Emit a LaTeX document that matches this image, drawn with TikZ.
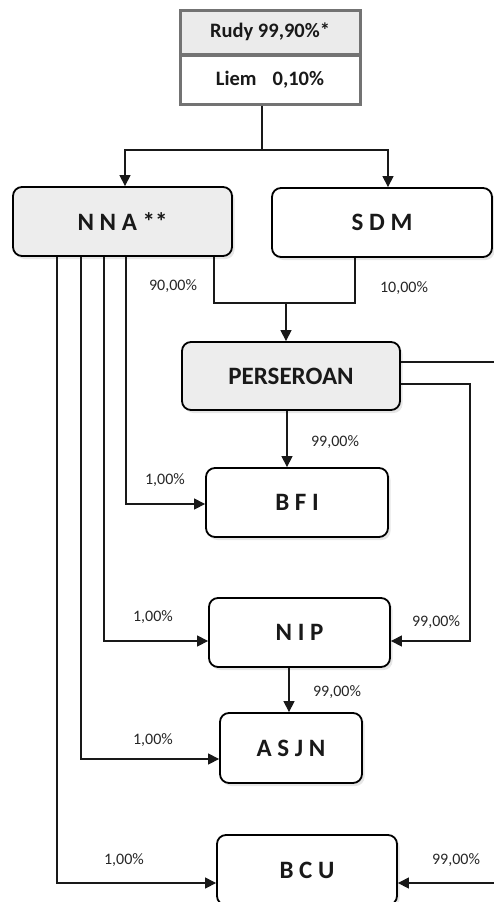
\documentclass[tikz,border=0pt]{standalone}
\usepackage{fontspec}
\setmainfont{Carlito}
\usetikzlibrary{arrows.meta}
\usetikzlibrary{shadows}

\tikzset{
  firm/.style={draw, rounded corners=9pt, line width=1.8pt, fill=white, inner sep=0pt,
    text=black!90, font=\fontsize{25}{29}\selectfont\bfseries,
    drop shadow={shadow xshift=2.5pt, shadow yshift=-3pt, opacity=0.2}},
  grayfirm/.style={firm, fill=black!7},
  owner/.style={draw=black!55, line width=3pt, minimum width=180pt, inner sep=0pt,
    text=black!90, font=\fontsize{20.5}{24}\selectfont\bfseries},
  pct/.style={text=black!85, font=\fontsize{16}{19}\selectfont},
  link/.style={line width=1.2pt, black!90},
  arr/.style={link, -{Triangle[length=11pt,width=11pt]}}
}

\begin{document}
\begin{tikzpicture}[x=1pt, y=-1pt]
		\useasboundingbox (0,0) rectangle (493,902);
		
		% draw owners
		\node[owner, fill=black!8, minimum height=44pt] (rudy) at (270,32) {Rudy 99,90\%*};
		\node[owner, fill=white, minimum height=49pt] (liem) at (270,79.5) {Liem\hspace{16pt}0,10\%};
		
		% draw companies
		\node[grayfirm, minimum width=219pt, minimum height=69pt] (nna) at (122.5,221.5) {N N A **};
		\node[firm, minimum width=220pt, minimum height=69pt] (sdm) at (382,222.5) {S D M};
		\node[grayfirm, minimum width=218pt, minimum height=68pt] (perseroan) at (291,376) {PERSEROAN};
		\node[firm, minimum width=182pt, minimum height=69pt] (bfi) at (297,502.5) {B F I};
		\node[firm, minimum width=181pt, minimum height=69pt] (nip) at (299.5,632.5) {N I P};
		\node[firm, minimum width=142pt, minimum height=70pt] (asjn) at (291,748) {A S J N};
		\node[firm, minimum width=180pt, minimum height=70pt] (bcu) at (307,870) {B C U};
		
		% draw owners to NNA and SDM
		\coordinate (split) at (262,150);
		\draw[link] (liem.south -| split) -- (split);
		\draw[arr] (split) -| ([xshift=2.5pt]nna.north);
		\draw[arr] (split) -| ([xshift=6pt]sdm.north);
		
		% draw NNA and SDM to PERSEROAN
		\coordinate (join) at (286,303);
		\draw[link] ([xshift=91.5pt]nna.south) |- (join) -| ([xshift=-27pt]sdm.south);
		\draw[arr] (join) -- (perseroan.north -| join);
		
		% draw NNA to subsidiaries
		\foreach \dx/\target/\dy in {3.5/bfi/-1.5, -18.5/nip/-8.5, -41.5/asjn/-11, -65.5/bcu/-13}
		\draw[arr] ([xshift=\dx pt]nna.south) |- ([yshift=\dy pt]\target.west);
		
		% draw PERSEROAN to subsidiaries
		\draw[arr] ([xshift=-4pt]perseroan.south) -- ([xshift=-10pt]bfi.north);
		\draw[arr] ([yshift=-8pt]perseroan.east) -- ++(69,0) |- ([yshift=-8.5pt]nip.east);
		\draw[arr] ([yshift=14pt]perseroan.east) -- ++(105,0) |- ([yshift=-13pt]bcu.east);
		\draw[arr] ([xshift=-10.5pt]nip.south) -- ([xshift=-2pt]asjn.north);
		
		% draw percentages
		\node[pct] (pnna) at (173,286) {90,00\%};
		\node[pct] (psdm) at (404,288) {10,00\%};
		\node[pct] (pbfi) at (335,442) {99,00\%};
		\node[pct] (qbfi) at (165,480) {1,00\%};
		\node[pct] (qnip) at (153,617) {1,00\%};
		\node[pct] (pnip) at (436,622) {99,00\%};
		\node[pct] (pasjn) at (337,692) {99,00\%};
		\node[pct] (qasjn) at (153,740) {1,00\%};
		\node[pct] (qbcu) at (124,860) {1,00\%};
		\node[pct] (pbcu) at (456,860) {99,00\%};
		
\end{tikzpicture}
\end{document}
